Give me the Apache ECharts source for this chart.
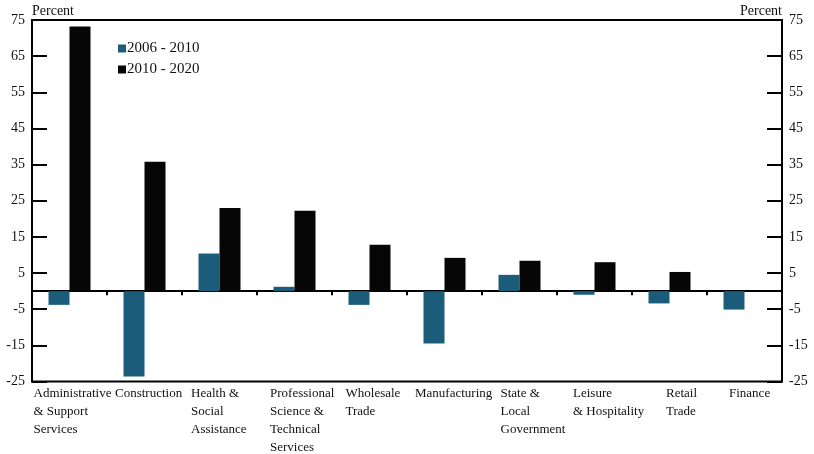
<!DOCTYPE html>
<html>
<head>
<meta charset="utf-8">
<script src="https://cdn.jsdelivr.net/npm/echarts@6/dist/echarts.min.js"></script>
<style>
  html, body { margin: 0; padding: 0; background: #fff; }
  #chart { width: 814px; height: 454px; }
</style>
</head>
<body>
<div id="chart"></div>
<script>
const categories = [
  'Administrative\n& Support\nServices',
  'Construction',
  'Health &\nSocial\nAssistance',
  'Professional\nScience &\nTechnical\nServices',
  'Wholesale\nTrade',
  'Manufacturing',
  'State &\nLocal\nGovernment',
  'Leisure\n& Hospitality',
  'Retail\nTrade',
  'Finance',
]
const series2006 = [-3.8, -23.6, 10.4, 1.2, -3.8, -14.5, 4.5, -1.0, -3.4, -5.1]
const series2010 = [73.2, 35.8, 23.0, 22.2, 12.8, 9.2, 8.4, 8.0, 5.3, null]
const seriesNames = ['2006 - 2010', '2010 - 2020']

// label block widths, so each left-aligned label block starts where the original does
const labelWidths = [72, 59, 57, 49, 48, 59, 38, 43, 7, 31]

const FONT = 'Liberation Serif'
const TEAL = '#1b5c7a'
const BLACK = '#060606'

const rich = {}
labelWidths.forEach((w, i) => {
  rich['w' + i] = { width: w, align: 'left', fontFamily: FONT, fontSize: 13, lineHeight: 18, color: '#111' }
})

const yAxisBase = {
  type: 'value',
  min: -25,
  max: 75,
  interval: 10,
  name: 'Percent',
  nameLocation: 'end',
  nameGap: 9,
  splitLine: { show: false },
  axisLine: { show: true, lineStyle: { color: '#000', width: 2 } },
  axisTick: { show: true, inside: true, length: 15, lineStyle: { color: '#000', width: 2 } },
  axisLabel: { fontFamily: FONT, fontSize: 14, color: '#111', margin: 7 },
}

const chart = echarts.init(document.getElementById('chart'))
chart.setOption({
  animation: false,
  grid: {
    left: 32, right: 32, top: 20, bottom: 72,
    show: true, borderColor: '#000', borderWidth: 2,
  },
  legend: {
    data: seriesNames,
    orient: 'vertical',
    left: 113,
    top: 36,
    itemWidth: 8,
    itemHeight: 8,
    itemGap: 6,
    icon: 'rect',
    textStyle: { fontFamily: FONT, fontSize: 15, color: '#111', padding: [0, 0, 0, -4] },
  },
  xAxis: [
    {
      type: 'category',
      data: categories,
      position: 'bottom',
      axisLine: { show: false, onZero: false },
      axisTick: { show: false },
      axisLabel: {
        interval: 0,
        margin: 3,
        formatter: (value, index) => value.split('\n').map(l => `{w${index}|${l}}`).join('\n'),
        rich: rich,
      },
    },
    {
      type: 'category',
      data: categories,
      position: 'bottom',
      axisLine: { show: true, onZero: true, lineStyle: { color: '#000', width: 2 } },
      axisTick: { show: true, length: 4, interval: 0, lineStyle: { color: '#000', width: 2 } },
      axisLabel: { show: false },
    },
  ],
  yAxis: [
    Object.assign({}, yAxisBase, {
      position: 'left',
      nameTextStyle: { fontFamily: FONT, fontSize: 14, color: '#111', align: 'left', verticalAlign: 'middle' },
    }),
    Object.assign({}, yAxisBase, {
      position: 'right',
      nameTextStyle: { fontFamily: FONT, fontSize: 14, color: '#111', align: 'right', verticalAlign: 'middle' },
    }),
  ],
  series: [
    {
      name: seriesNames[0],
      type: 'bar',
      data: series2006,
      barWidth: 21,
      barGap: '0%',
      itemStyle: { color: TEAL },
    },
    {
      name: seriesNames[1],
      type: 'bar',
      data: series2010,
      barWidth: 21,
      barGap: '0%',
      itemStyle: { color: BLACK },
    },
  ],
})
</script>
</body>
</html>
